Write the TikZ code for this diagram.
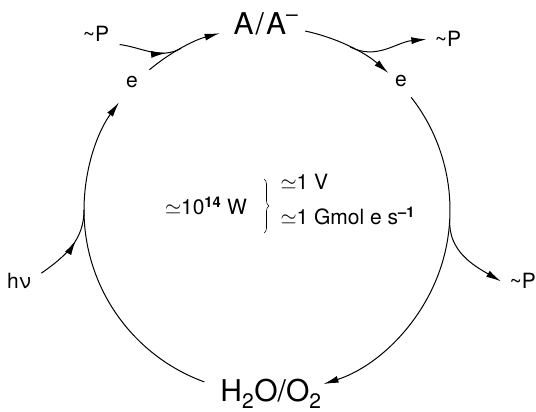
\documentclass[tikz,border=0pt]{standalone}
\usepackage{fontspec}
\setmainfont{TeX Gyre Heros}
\usetikzlibrary{arrows.meta,calc,decorations.markings,decorations.pathreplacing}

\begin{document}
\begin{tikzpicture}[x=1pt,y=1pt,>=Latex,line width=1pt,
  lbl/.style={font=\fontsize{21}{25}\selectfont,inner sep=2pt,anchor=base},
  big/.style={font=\fontsize{30}{34}\selectfont,inner sep=2pt,anchor=base},
  tip/.style={-{Latex[length=15pt,width=7pt]}},
  midtip/.style={postaction={decorate},decoration={markings,mark=at position #1 with {\arrow{Latex[length=15pt,width=7pt]}}}}]
\useasboundingbox (0,0) rectangle (536,412);
% labels
\node[big] (aa) at (266,377) {A\kern2pt/\kern2ptA\raisebox{4pt}{\textsuperscript{–}}};
\node[big] (h2o) at (271,10) {H\textsubscript{2}O/O\textsubscript{2}};
\node[lbl] (el) at (132,324) {e};
\node[lbl] (er) at (401,325) {e};
\node[lbl] (pl) at (96,370) {\textasciitilde P};
\node[lbl] (pr) at (448,365) {\textasciitilde P};
\node[lbl,anchor=base west] (pb) at (507,123) {\textasciitilde P};
\node[lbl] (hv) at (19,123) {hν};
\node[lbl] (pw) at (206,197) {$\simeq$10\textsuperscript{\textbf{14}}\ W};
\node[lbl,anchor=base west] (pv) at (278,222) {$\simeq$1 V};
\node[lbl,anchor=base west] (pg) at (278,187) {$\simeq$1 Gmol e s\textsuperscript{\textbf{–1}}};
% points on the cycle
\coordinate (c) at (267,202);
\coordinate (h2oL) at ($(c)+(250:183)$);
\coordinate (hvj) at ($(c)+(180:183)$);
\coordinate (elst) at ($(c)+(130:183)$);
\coordinate (plj) at ($(c)+(118:183)$);
\coordinate (aaR) at ($(c)+(78:183)$);
\coordinate (prj) at ($(c)+(63:183)$);
\coordinate (erst) at ($(c)+(38:183)$);
\coordinate (pbj) at ($(c)+(-3:183)$);
\coordinate (br1) at (264,233);
\coordinate (br2) at (264,179);
% cycle
\draw (h2oL) arc[start angle=250,end angle=180,radius=183];
\draw[tip] (hvj) arc[start angle=180,end angle=144,radius=183];
\draw[tip] (elst) arc[start angle=130,end angle=105,radius=183];
\draw[tip] (aaR) arc[start angle=78,end angle=48.5,radius=183];
\draw[tip] (erst) arc[start angle=38,end angle=-72,radius=183];
% side branches
\draw[midtip=0.75] ([shift={(8pt,0pt)}]pl.south east) to[out=-8,in=208] (plj);
\draw[tip] (prj) to[out=-27,in=185] ([xshift=-6pt]pr.west);
\draw[tip] (pbj) to[out=-93,in=150] ([xshift=-6pt]pb.west);
\draw[midtip=0.6] ([shift={(8pt,-2pt)}]hv.north east) to[out=35,in=-90] (hvj);
\draw[decorate,decoration={brace,amplitude=5pt},line width=0.6pt] (br1) -- (br2);
\end{tikzpicture}
\end{document}
